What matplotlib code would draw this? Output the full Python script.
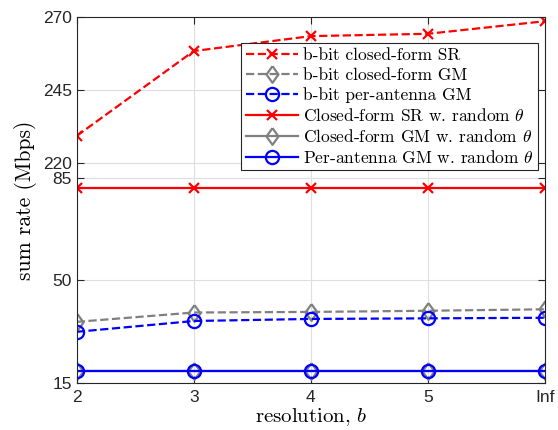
import matplotlib; matplotlib.use("Agg")
import matplotlib.pyplot as plt
import numpy as np

# values (upper group is drawn on a broken axis)
x_labels = ["2", "3", "4", "5", "Inf"]
sr_bbit = [229.4, 258.4, 263.5, 264.3, 268.6]
gm_bbit = [35.8, 39.0, 39.2, 39.6, 40.1]
pa_bbit = [32.4, 36.1, 36.8, 37.0, 37.2]
sr_rand = [81.6, 81.6, 81.6, 81.6, 81.6]
gm_rand = [19.1, 19.1, 19.1, 19.1, 19.1]
pa_rand = [19.0, 19.0, 19.0, 19.0, 19.0]

y_ticks = [15, 50, 85, 220, 245, 270]
OFFSET = 130  # upper band shifted down so 220 sits just above 85


def brk(v):
    v = np.asarray(v, float)
    return np.where(v > 150, v - OFFSET, v)


plt.rcParams["mathtext.fontset"] = "cm"
CM = "cmr10"
RED, GRAY, BLUE = (1, 0, 0), (0.5, 0.5, 0.5), (0, 0, 1)
DIAM = [(0, 1), (0.72, 0), (0, -1), (-0.72, 0), (0, 1)]  # matlab-ish diamond

fig = plt.figure(figsize=(5.58, 4.30), dpi=100)
ax = fig.add_axes([0.1375, 0.110, 0.8392, 0.8502])
x = np.arange(len(x_labels))

kw = dict(linewidth=1.6, markerfacecolor="none", markeredgewidth=1.6)
ax.plot(x, brk(sr_bbit), "--", marker="x", color=RED, markersize=7.5, label="b-bit closed-form SR", **kw)
ax.plot(x, brk(gm_bbit), "--", marker=DIAM, color=GRAY, markersize=12, label="b-bit closed-form GM", **kw)
ax.plot(x, brk(pa_bbit), "--", marker="o", color=BLUE, markersize=9.5, label="b-bit per-antenna GM", **kw)
ax.plot(x, brk(sr_rand), "-", marker="x", color=RED, markersize=7.5, label=r"Closed-form SR w. random $\theta$", **kw)
ax.plot(x, brk(gm_rand), "-", marker=DIAM, color=GRAY, markersize=12, label=r"Closed-form GM w. random $\theta$", **kw)
ax.plot(x, brk(pa_rand), "-", marker="o", color=BLUE, markersize=9.5, label=r"Per-antenna GM w. random $\theta$", **kw)

ax.set_xlim(0, len(x_labels) - 1)
ax.set_ylim(15, 270 - OFFSET)
ax.set_xticks(x)
ax.set_xticklabels(x_labels)
ax.set_yticks(brk(y_ticks))
ax.set_yticklabels([str(t) for t in y_ticks])
for lab in ax.get_xticklabels() + ax.get_yticklabels():
    lab.set_fontfamily("Liberation Sans")
    lab.set_fontsize(12.5)
    lab.set_color((0.15, 0.15, 0.15))
ax.tick_params(direction="in", top=True, right=True, length=5, color=(0.15, 0.15, 0.15))
ax.tick_params(axis="x", pad=5)
ax.grid(True, color=(0.87, 0.87, 0.87), linewidth=0.8)
ax.set_axisbelow(True)
for s in ax.spines.values():
    s.set_color((0.15, 0.15, 0.15))
    s.set_linewidth(0.8)

ax.set_xlabel(r"resolution, $b$", fontfamily=CM, fontsize=15, labelpad=1)
ax.set_ylabel("sum rate (Mbps)", fontfamily=CM, fontsize=15.5, labelpad=4)

leg = ax.legend(loc="upper right", bbox_to_anchor=(0.985, 0.928),
                prop={"family": CM, "size": 12.5}, handlelength=3.0,
                labelspacing=0.24, handletextpad=0.3, borderpad=0.25,
                borderaxespad=0, fancybox=False, framealpha=1)
leg.get_frame().set_edgecolor((0.15, 0.15, 0.15))
leg.get_frame().set_linewidth(0.8)

fig.savefig("out.png", dpi=100)
